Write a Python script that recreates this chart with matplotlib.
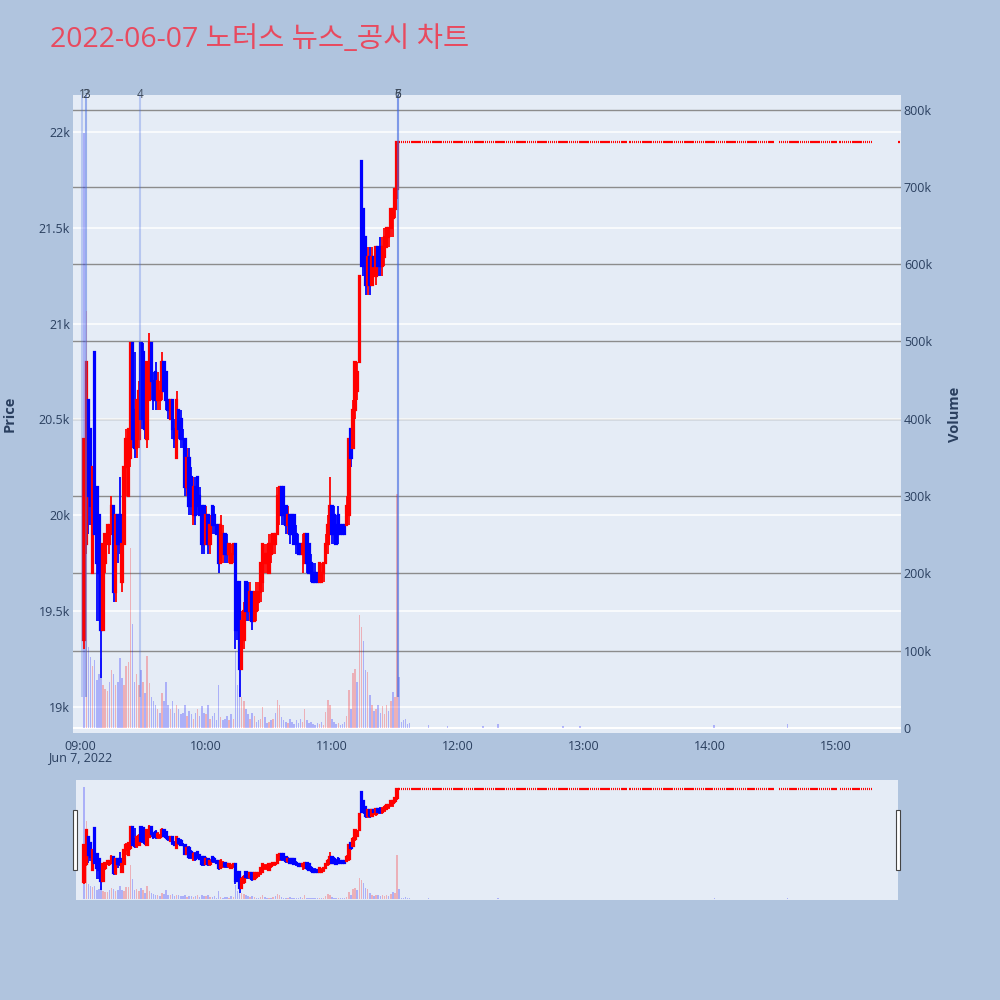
import numpy as np
import pandas as pd
import matplotlib
matplotlib.use("Agg")
import matplotlib.pyplot as plt
from matplotlib.patches import Rectangle
from matplotlib.transforms import blended_transform_factory

plt.rcParams['font.family'] = ['Open Sans', 'Noto Sans CJK KR', 'DejaVu Sans']

TITLE = "2022-06-07 노터스 뉴스_공시 차트"
DAY = "2022-06-07"

# minute candles 09:02 .. 11:31 (150 minutes)
opens = [
    19350, 19850, 20600, 20450, 19700, 20850, 20150, 20000, 19700, 19400,
    19750, 19850, 19850, 19900, 20050, 19600, 20000, 20000, 19650, 19850,
    20250, 20100, 20300, 20900, 20550, 20350, 20400, 20900, 20850, 20700,
    20400, 20600, 20900, 20700, 20750, 20600, 20600, 20650, 20800, 20750,
    20600, 20500, 20600, 20450, 20300, 20550, 20500, 20400, 20400, 20150,
    20300, 20200, 20000, 20150, 20200, 20100, 20050, 20050, 19850, 20000,
    19850, 20050, 20000, 19950, 19950, 19750, 19800, 19900, 19850, 19800,
    19750, 19800, 19850, 19650, 19650, 19200, 19350, 19650, 19600, 19500,
    19600, 19450, 19500, 19550, 19600, 19650, 19750, 19750, 19700, 19800,
    19850, 19850, 19900, 20000, 20150, 20150, 20050, 19950, 20000, 20000,
    20000, 19900, 19850, 19850, 19800, 19750, 19900, 19850, 19750, 19700,
    19700, 19700, 19650, 19650, 19700, 19750, 19850, 19900, 20050, 20000,
    19950, 20000, 19950, 19950, 19950, 19950, 20000, 20450, 20350, 20550,
    20650, 20800, 21850, 21600, 21450, 21200, 21350, 21200, 21350, 21250,
    21400, 21400, 21300, 21350, 21400, 21450, 21500, 21550, 21600, 21700,
]
highs = [
    20400, 20800, 20600, 20450, 20250, 20850, 20150, 20000, 19750, 19850,
    19900, 19950, 19950, 20100, 20050, 20000, 20000, 20200, 19900, 20250,
    20450, 20450, 20900, 20900, 20850, 20600, 20700, 20900, 20900, 20700,
    20800, 20950, 20900, 20750, 20800, 20750, 20700, 20850, 20800, 20750,
    20600, 20600, 20600, 20500, 20650, 20550, 20550, 20450, 20400, 20350,
    20350, 20250, 20200, 20200, 20200, 20150, 20050, 20050, 20050, 20000,
    20000, 20050, 20050, 19950, 19950, 20000, 19950, 19900, 19900, 19850,
    19850, 19850, 19850, 19650, 19650, 19500, 19550, 19650, 19650, 19650,
    19600, 19600, 19650, 19650, 19750, 19850, 19850, 19850, 19900, 19900,
    19900, 19900, 20150, 20150, 20150, 20150, 20050, 20050, 20000, 20000,
    20000, 19950, 19900, 19850, 19900, 19900, 19900, 19850, 19800, 19750,
    19750, 19700, 19750, 19750, 19750, 19900, 20000, 20200, 20050, 20050,
    20000, 20050, 19950, 19950, 19950, 20100, 20400, 20450, 20600, 20800,
    20800, 21250, 21850, 21600, 21450, 21400, 21400, 21400, 21350, 21400,
    21400, 21450, 21450, 21500, 21500, 21500, 21600, 21600, 21700, 21950,
]
lows = [
    19300, 19800, 19900, 19950, 19700, 19900, 19450, 19450, 19150, 19400,
    19700, 19850, 19800, 19900, 19550, 19550, 19750, 19800, 19600, 19850,
    20100, 20100, 20250, 20350, 20300, 20300, 20350, 20450, 20450, 20400,
    20350, 20600, 20600, 20550, 20550, 20550, 20550, 20600, 20650, 20550,
    20500, 20500, 20400, 20350, 20300, 20400, 20350, 20350, 20100, 20100,
    20000, 20000, 19950, 19950, 20000, 20000, 19800, 19800, 19850, 19800,
    19800, 19900, 19900, 19900, 19700, 19750, 19750, 19750, 19750, 19750,
    19750, 19750, 19300, 19350, 19050, 19200, 19300, 19450, 19450, 19450,
    19400, 19450, 19450, 19500, 19550, 19600, 19700, 19700, 19700, 19750,
    19800, 19800, 19900, 19950, 19950, 19950, 19900, 19900, 19850, 19900,
    19850, 19800, 19800, 19800, 19700, 19750, 19700, 19700, 19650, 19650,
    19650, 19650, 19650, 19650, 19650, 19750, 19800, 19900, 19850, 19850,
    19850, 19850, 19900, 19900, 19900, 19950, 19950, 20250, 20350, 20500,
    20600, 20800, 21300, 21250, 21150, 21150, 21150, 21200, 21300, 21200,
    21250, 21250, 21250, 21300, 21400, 21400, 21450, 21450, 21550, 21650,
]
closes = [
    20400, 20800, 20100, 20050, 20250, 19900, 19750, 19700, 19400, 19850,
    19900, 19950, 19950, 20050, 19600, 20000, 19850, 19850, 19850, 20250,
    20400, 20450, 20900, 20400, 20350, 20600, 20650, 20500, 20550, 20450,
    20800, 20900, 20700, 20600, 20600, 20700, 20650, 20800, 20650, 20600,
    20550, 20600, 20450, 20400, 20600, 20450, 20400, 20400, 20150, 20300,
    20050, 20050, 20150, 20000, 20050, 20000, 19850, 19850, 20000, 19850,
    19950, 19950, 19950, 19900, 19750, 19950, 19900, 19800, 19800, 19850,
    19800, 19850, 19400, 19400, 19200, 19450, 19500, 19500, 19500, 19600,
    19450, 19600, 19600, 19600, 19750, 19850, 19800, 19800, 19850, 19850,
    19900, 19900, 20100, 20150, 20000, 20000, 19950, 20000, 19900, 19900,
    19850, 19850, 19800, 19800, 19850, 19900, 19750, 19700, 19700, 19650,
    19650, 19650, 19750, 19700, 19750, 19850, 19950, 20050, 19900, 19900,
    19850, 19900, 19900, 19900, 19900, 20050, 20400, 20300, 20550, 20800,
    20750, 21250, 21300, 21300, 21200, 21350, 21200, 21350, 21300, 21400,
    21300, 21300, 21400, 21450, 21500, 21500, 21600, 21600, 21700, 21950,
]
volumes = [
    770000, 540000, 105000, 92000, 80000, 88000, 62000, 70000, 90000, 55000,
    50000, 48000, 60000, 75000, 70000, 55000, 60000, 90000, 65000, 55000,
    80000, 85000, 233000, 135000, 60000, 70000, 55000, 75000, 60000, 45000,
    93000, 58000, 40000, 35000, 30000, 25000, 20000, 45000, 35000, 60000,
    30000, 25000, 35000, 20000, 30000, 25000, 18000, 20000, 30000, 15000,
    22000, 18000, 12000, 20000, 25000, 15000, 28000, 20000, 18000, 30000,
    12000, 15000, 20000, 10000, 55000, 14000, 10000, 12000, 15000, 10000,
    18000, 12000, 100000, 55000, 50000, 40000, 35000, 25000, 18000, 12000,
    20000, 15000, 8000, 10000, 12000, 27000, 14000, 6000, 8000, 10000,
    12000, 20000, 36000, 30000, 14000, 10000, 8000, 6000, 12000, 8000,
    5000, 10000, 6000, 12000, 8000, 25000, 10000, 6000, 8000, 5000,
    4000, 6000, 5000, 8000, 4000, 21000, 36000, 30000, 12000, 8000,
    5000, 6000, 4000, 5000, 8000, 15000, 49000, 25000, 71000, 76000,
    60000, 146000, 130000, 113000, 75000, 72000, 43000, 30000, 22000, 25000,
    30000, 20000, 28000, 18000, 30000, 22000, 35000, 46000, 40000, 303000,
]

# after 11:31 the stock sits at the upper limit
LIMIT_PRICE = 21950
lock_segments = [("11:32", "13:20"), ("13:22", "14:30"), ("14:33", "15:00"),
                 ("15:02", "15:17"), ("15:30", "15:30")]
lock_base_volume = 600
lock_vol_times = ["11:32", "11:33", "11:34", "11:35", "11:36", "11:37", "11:46",
                  "11:55", "12:12", "12:19", "12:50", "12:58", "14:02", "14:37"]
lock_vol_values = [66000, 8000, 10000, 12000, 5000, 7000, 4000,
                   3000, 3000, 5000, 3000, 2000, 4000, 5000]

# news / disclosure markers
news_times = ["09:01:00", "09:02:55", "09:03:05", "09:28:35", "11:31:20", "11:31:25", "11:31:30"]
news_labels = ["1", "2", "3", "4", "5", "6", "7"]

price_ticks = [19000, 19500, 20000, 20500, 21000, 21500, 22000]
price_tick_labels = ["19k", "19.5k", "20k", "20.5k", "21k", "21.5k", "22k"]
vol_ticks = [0, 100000, 200000, 300000, 400000, 500000, 600000, 700000, 800000]
vol_tick_labels = ["0", "100k", "200k", "300k", "400k", "500k", "600k", "700k", "800k"]
time_tick_labels = ["09:00", "10:00", "11:00", "12:00", "13:00", "14:00", "15:00"]

PAPER = "#B0C4DE"
PLOT_BG = "#E5ECF6"
TXT = "#2a3f5f"
UP = "#ff0000"
DOWN = "#0000ff"

# ---- assemble frame
t0 = pd.Timestamp(f"{DAY} 09:00")
main = pd.DataFrame({"time": pd.date_range(f"{DAY} 09:02", periods=len(opens), freq="min"),
                     "open": opens, "high": highs, "low": lows, "close": closes,
                     "volume": volumes})
lock_times = pd.DatetimeIndex(np.concatenate([
    pd.date_range(f"{DAY} {a}", f"{DAY} {b}", freq="min").values for a, b in lock_segments]))
lock = pd.DataFrame({"time": lock_times, "open": LIMIT_PRICE, "high": LIMIT_PRICE,
                     "low": LIMIT_PRICE, "close": LIMIT_PRICE, "volume": lock_base_volume})
spikes = dict(zip(pd.to_datetime([f"{DAY} {t}" for t in lock_vol_times]), lock_vol_values))
lock["volume"] = [spikes.get(t, v) for t, v in zip(lock["time"], lock["volume"])]
df = pd.concat([main, lock], ignore_index=True)
df["x"] = (df["time"] - t0).dt.total_seconds() / 60.0

# candle colour: plotly-like, doji keeps previous direction
cc = []
prev = UP
for o, c in zip(df["open"], df["close"]):
    if c > o:
        prev = UP
    elif c < o:
        prev = DOWN
    cc.append(prev)
df["ccol"] = cc
df["vcol"] = np.where(df["close"].diff() > 0, UP, DOWN)

news_x = [(pd.Timestamp(f"{DAY} {t}") - t0).total_seconds() / 60.0 for t in news_times]

PRICE_LIM = (18864, 22193)
VOL_LIM = (-6500, 818800)


def draw_candles(ax, d, lw):
    ax.vlines(d["x"], d["low"], d["high"], colors=d["ccol"], linewidth=lw * 0.8, zorder=3)
    bottom = np.minimum(d["open"], d["close"])
    height = np.abs(d["close"] - d["open"])
    ax.bar(d["x"], height, bottom=bottom, width=0.7, color=d["ccol"],
           edgecolor=d["ccol"], linewidth=lw, zorder=3)


def draw_volume(ax, d):
    ax.bar(d["x"], d["volume"], width=0.7, color=d["vcol"], alpha=0.25, linewidth=0, zorder=2)


fig = plt.figure(figsize=(10, 10), dpi=100)
fig.patch.set_facecolor(PAPER)

# ---- main chart: volume axes behind, price axes in front
axv = fig.add_axes([0.073, 0.267, 0.828, 0.638])
axp = axv.twinx()
axp.set_zorder(axv.get_zorder() + 1)
axp.patch.set_visible(False)
axv.set_facecolor(PLOT_BG)

xlim = (-3.33, 390.95)
axv.set_xlim(xlim)
axv.set_ylim(VOL_LIM)
axp.set_ylim(PRICE_LIM)

# grid lines (volume grey, price white, both under the marks)
for v in vol_ticks:
    axv.axhline(v, color="white" if v == 0 else "#8c8c8c", linewidth=1.4 if v == 0 else 1.0, zorder=0.5)
btr = blended_transform_factory(axv.transAxes, axp.transData)
for p in price_ticks:
    axv.plot([0, 1], [p, p], transform=btr, color="white", linewidth=1.1, zorder=0.6)

draw_volume(axv, df)
draw_candles(axp, df, 1.6)

for nx, lab in zip(news_x, news_labels):
    axp.vlines(nx, 19050, PRICE_LIM[1], colors="royalblue", alpha=0.28, linewidth=1.5, zorder=6)
    axp.text(nx, PRICE_LIM[1], lab, ha="center", va="center", fontsize=8.5, color="#3d4a5c",
             clip_on=False, zorder=7)

# price ticks on the left, volume ticks on the right
axp.yaxis.tick_left()
axp.set_yticks(price_ticks)
axp.set_yticklabels(price_tick_labels)
axv.yaxis.tick_right()
axv.set_yticks(vol_ticks)
axv.set_yticklabels(vol_tick_labels)
axv.set_xticks([60 * i for i in range(len(time_tick_labels))])
axv.set_xticklabels(time_tick_labels)
axv.xaxis.tick_bottom()
for a in (axv, axp):
    a.tick_params(length=0, labelsize=9, labelcolor=TXT, pad=2)
    for s in a.spines.values():
        s.set_visible(False)
axv.tick_params(axis="x", pad=5)

fig.text(0.080, 0.242, "Jun 7, 2022", ha="center", va="center", fontsize=9, color=TXT)
fig.text(0.010, 0.586, "Price", rotation=90, ha="center", va="center", fontsize=10.5,
         fontweight="bold", color=TXT)
fig.text(0.955, 0.586, "Volume", rotation=90, ha="center", va="center", fontsize=10.5,
         fontweight="bold", color=TXT)
fig.text(0.050, 0.960, TITLE, ha="left", va="center", fontsize=20.5, color="#e84a5f")

# ---- range slider
sv = fig.add_axes([0.076, 0.100, 0.822, 0.120])
sp = sv.twinx()
sp.set_zorder(sv.get_zorder() + 1)
sp.patch.set_visible(False)
sv.set_facecolor(PLOT_BG)
sv.set_xlim(-1.9, 389.5)
sv.set_ylim(VOL_LIM)
sp.set_ylim(PRICE_LIM)
draw_volume(sv, df)
draw_candles(sp, df, 1.6)
for a in (sv, sp):
    a.set_xticks([])
    a.set_yticks([])
    for s in a.spines.values():
        s.set_visible(False)

for hx in (0.073, 0.896):
    fig.patches.append(Rectangle((hx, 0.130), 0.004, 0.060, transform=fig.transFigure,
                                 facecolor="white", edgecolor="#444444", linewidth=0.8))

fig.savefig("out.png", dpi=100, facecolor=PAPER)
